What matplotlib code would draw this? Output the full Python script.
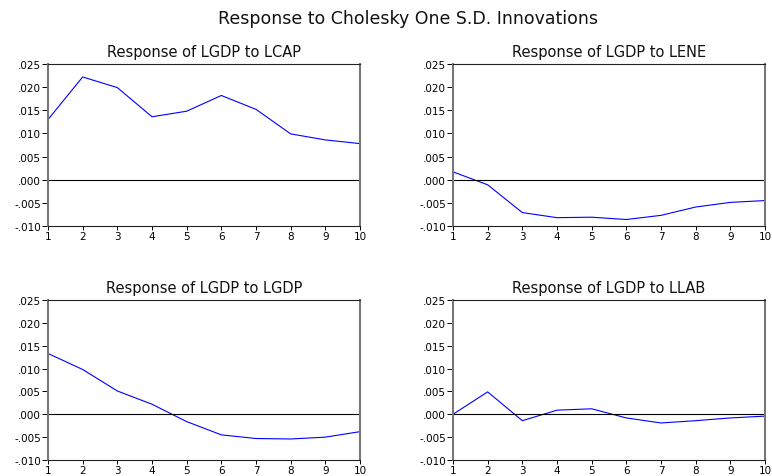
import matplotlib
matplotlib.use("Agg")
import matplotlib.pyplot as plt

plt.rcParams['font.family'] = ['DejaVu Sans']

periods = [1, 2, 3, 4, 5, 6, 7, 8, 9, 10]
lcap = [0.0130, 0.0222, 0.0199, 0.0136, 0.0148, 0.0182, 0.0152, 0.0099, 0.0086, 0.0078]
lene = [0.0017, -0.0011, -0.0071, -0.0082, -0.0081, -0.0086, -0.0077, -0.0059, -0.0049, -0.0045]
lgdp = [0.0133, 0.0098, 0.0051, 0.0022, -0.0016, -0.0045, -0.0053, -0.0054, -0.0050, -0.0038]
llab = [0.0000, 0.0049, -0.0014, 0.0009, 0.0012, -0.0008, -0.0019, -0.0014, -0.0008, -0.0004]
yticks = [-0.010, -0.005, 0.000, 0.005, 0.010, 0.015, 0.020, 0.025]
ytick_labels = ["-.010", "-.005", ".000", ".005", ".010", ".015", ".020", ".025"]

panels = [
    ("Response of LGDP to LCAP", lcap, (48, 65, 360, 227)),
    ("Response of LGDP to LENE", lene, (453, 65, 765, 227)),
    ("Response of LGDP to LGDP", lgdp, (48, 301, 360, 461)),
    ("Response of LGDP to LLAB", llab, (453, 301, 765, 461)),
]

W, H = 772, 477
fig = plt.figure(figsize=(W / 100, H / 100), dpi=100)
fig.text(408 / W, 1 - 19 / H, "Response to Cholesky One S.D. Innovations",
         ha="center", va="center", fontsize=12.5, color="#111111")

for title, vals, (x0, y0, x1, y1) in panels:
    ax = fig.add_axes([x0 / W, 1 - y1 / H, (x1 - x0) / W, (y1 - y0) / H])
    ax.plot(periods, vals, color="#0000ff", lw=0.8)
    ax.axhline(0, color="black", lw=0.8)
    ax.set_xlim(1, 10)
    ax.set_ylim(-0.010, 0.025)
    ax.set_xticks(periods)
    ax.set_xticklabels([str(p) for p in periods])
    ax.set_yticks(yticks)
    ax.set_yticklabels(ytick_labels)
    ax.tick_params(direction="out", length=4, width=0.7, labelsize=7.5, pad=1)
    ax.tick_params(axis="x", pad=0.5, length=3)
    for s in ax.spines.values():
        s.set_linewidth(0.8)
        s.set_color("#222222")
    ax.spines["left"].set_linewidth(1.5)
    ax.spines["left"].set_color("#777777")
    ax.spines["right"].set_linewidth(1.5)
    ax.spines["right"].set_color("#777777")
    ax.set_title(title, fontsize=10.5, pad=6, color="#111111")

fig.savefig("out.png", dpi=100)
